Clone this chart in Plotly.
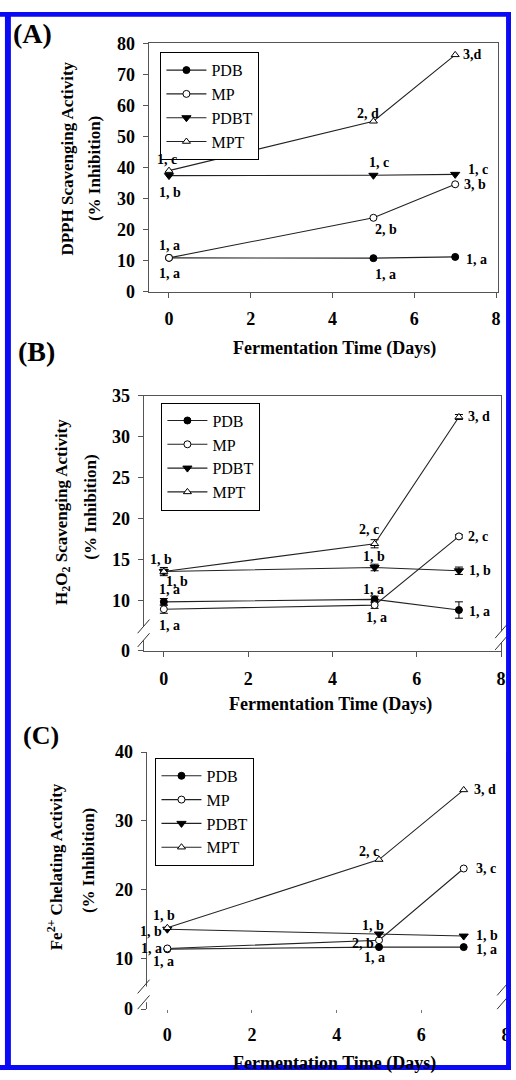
import plotly.graph_objects as go

# ---------------- data ----------------
days = [0, 5, 7]
series_names = ["PDB", "MP", "PDBT", "MPT"]

# (A) DPPH scavenging activity (% inhibition)
dpph_pdb = [10.9, 10.8, 11.2]
dpph_mp = [10.9, 23.8, 34.6]
dpph_pdbt = [37.4, 37.5, 37.8]
dpph_mpt = [39.0, 54.9, 76.3]
dpph_lbl_pdb = ["1, a", "1, a", "1, a"]
dpph_lbl_mp = ["1, a", "2, b", "3, b"]
dpph_lbl_pdbt = ["1, b", "1, c", "1, c"]
dpph_lbl_mpt = ["1, c", "2, d", "3,d"]

# (B) H2O2 scavenging activity (% inhibition)
h2o2_pdb = [9.8, 10.1, 8.8]
h2o2_mp = [8.9, 9.4, 17.8]
h2o2_pdbt = [13.5, 14.0, 13.6]
h2o2_mpt = [13.5, 16.9, 32.4]
h2o2_err_pdb = [0.4, 0.4, 1.0]
h2o2_err_mp = [0.5, 0.4, 0.2]
h2o2_err_pdbt = [0.3, 0.4, 0.45]
h2o2_err_mpt = [0.5, 0.5, 0.3]
h2o2_lbl_pdb = ["1, a", "1, a", "1, a"]
h2o2_lbl_mp = ["1, a", "1, a", "2, c"]
h2o2_lbl_pdbt = ["1, b", "1, b", "1, b"]
h2o2_lbl_mpt = ["1, b", "2, c", "3, d"]

# (C) Fe2+ chelating activity (% inhibition)
fe_pdb = [11.4, 11.7, 11.7]
fe_mp = [11.5, 12.7, 23.1]
fe_pdbt = [14.3, 13.6, 13.3]
fe_mpt = [14.5, 24.4, 34.5]
fe_lbl_pdb = ["1, a", "1, a", "1, a"]
fe_lbl_mp = ["1, a", "2, b", "3, c"]
fe_lbl_pdbt = ["1, b", "1, b", "1, b"]
fe_lbl_mpt = ["1, b", "2, c", "3, d"]

x_ticks = [0, 2, 4, 6, 8]
dpph_ticks = [0, 10, 20, 30, 40, 50, 60, 70, 80]
h2o2_ticks = [10, 15, 20, 25, 30, 35]
fe_ticks = [10, 20, 30, 40]
x_title = "Fermentation Time (Days)"

# ---------------- styling ----------------
W, H = 516, 1080
FONT = "Liberation Serif"
LINE = "#222222"
AXC = "#555555"


def fx(p):
    return p / W


def fy(p):
    return 1 - p / H


marker_styles = {
    "PDB": dict(symbol="circle", size=7, color="black", line=dict(color="black", width=1)),
    "MP": dict(symbol="circle", size=7, color="white", line=dict(color="black", width=1)),
    "PDBT": dict(symbol="triangle-down", size=8, color="black", line=dict(color="black", width=1)),
    "MPT": dict(symbol="triangle-up", size=7, color="white", line=dict(color="black", width=1)),
}

# label offsets (xanchor, xshift px, yshift px) per series per point
offs_A = {
    "PDB": [("center", 1, -16), ("center", 12, -16), ("left", 9, -3)],
    "MP": [("center", 1, 12), ("center", 13, -12), ("left", 7, 0)],
    "PDBT": [("center", 1, -17), ("center", 6, 13), ("left", 11, 5)],
    "MPT": [("center", -2, 11), ("center", -5, 8), ("left", 6, 0)],
}
offs_B = {
    "PDB": [("center", 6, 12), ("center", -1, 10), ("left", 8, -1)],
    "MP": [("center", 6, -16), ("center", 2, -12), ("left", 7, 0)],
    "PDBT": [("center", 13, -10), ("center", -1, 11), ("left", 8, 0)],
    "MPT": [("center", -3, 12), ("center", -6, 14), ("left", 7, 0)],
}
offs_C = {
    "PDB": [("center", -4, -12), ("center", -5, -10), ("left", 10, -2)],
    "MP": [("right", -3, 0), ("right", -3, -3), ("left", 10, 0)],
    "PDBT": [("right", -3, -2), ("center", -6, 9), ("left", 10, 1)],
    "MPT": [("center", -3, 12), ("center", -10, 8), ("left", 8, 0)],
}

panels = [
    dict(sfx="", legend="legend",
         vals={"PDB": dpph_pdb, "MP": dpph_mp, "PDBT": dpph_pdbt, "MPT": dpph_mpt},
         lbls={"PDB": dpph_lbl_pdb, "MP": dpph_lbl_mp, "PDBT": dpph_lbl_pdbt, "MPT": dpph_lbl_mpt},
         errs=None, offs=offs_A,
         xdom=(150, 503), ydom=(34, 287), xr=[-0.5, 8.05], yr=[0, 80],
         ytv=dpph_ticks, ytt=[str(v) for v in dpph_ticks],
         leg=(162, 43), letter="(A)", letter_pos=(11, 24, 28),
         yt1="DPPH Scavenging Activity", yt1pos=(68, 151), yt2pos=(95, 162),
         xtpos=(338, 345)),
    dict(sfx="2", legend="legend2",
         vals={"PDB": h2o2_pdb, "MP": h2o2_mp, "PDBT": h2o2_pdbt, "MPT": h2o2_mpt},
         lbls={"PDB": h2o2_lbl_pdb, "MP": h2o2_lbl_mp, "PDBT": h2o2_lbl_pdbt, "MPT": h2o2_lbl_mpt},
         errs={"PDB": h2o2_err_pdb, "MP": h2o2_err_mp, "PDBT": h2o2_err_pdbt, "MPT": h2o2_err_mpt},
         offs=offs_B,
         xdom=(145, 506), ydom=(393, 653), xr=[-0.48, 8.0], yr=[3.8, 35],
         ytv=[3.8] + h2o2_ticks, ytt=["0"] + [str(v) for v in h2o2_ticks],
         leg=(163, 400), letter="(B)", letter_pos=(16, 348, 28),
         yt1="H<sub>2</sub>O<sub>2</sub> Scavenging Activity", yt1pos=(63, 511), yt2pos=(92, 507),
         xtpos=(334, 708)),
    dict(sfx="3", legend="legend3",
         vals={"PDB": fe_pdb, "MP": fe_mp, "PDBT": fe_pdbt, "MPT": fe_mpt},
         lbls={"PDB": fe_lbl_pdb, "MP": fe_lbl_mp, "PDBT": fe_lbl_pdbt, "MPT": fe_lbl_mpt},
         errs=None, offs=offs_C,
         xdom=(148, 511), ydom=(756, 1018), xr=[-0.49, 8.0], yr=[2.7, 40],
         ytv=[2.7] + fe_ticks, ytt=["0"] + [str(v) for v in fe_ticks],
         leg=(157, 762), letter="(C)", letter_pos=(21, 739, 26),
         yt1="Fe<sup>2+</sup> Chelating Activity", yt1pos=(55, 873), yt2pos=(90, 867),
         xtpos=(338, 1073)),
]

fig = go.Figure()
annotations = []
shapes = []
layout = dict(
    width=W, height=H, autosize=False,
    margin=dict(l=0, r=0, t=0, b=0),
    paper_bgcolor="white", plot_bgcolor="white",
    font=dict(family=FONT, color="black"),
)

for i, p in enumerate(panels):
    s = p["sfx"]
    xa, ya = "x" + s, "y" + s
    for name in series_names:
        err = None
        if p["errs"] is not None:
            err = dict(type="data", array=p["errs"][name], color="black", thickness=1, width=4, visible=True)
        fig.add_trace(go.Scatter(
            x=days, y=p["vals"][name], name=name, mode="lines+markers",
            xaxis=xa, yaxis=ya, legend=p["legend"],
            line=dict(color=LINE, width=1.1),
            marker=marker_styles[name], error_y=err,
        ))
        for j, d in enumerate(days):
            anc, dx, dy = p["offs"][name][j]
            annotations.append(dict(
                x=d, y=p["vals"][name][j], xref=xa, yref=ya,
                text=p["lbls"][name][j], showarrow=False,
                xanchor=anc, yanchor="middle", xshift=dx, yshift=dy,
                font=dict(family=FONT, size=14, weight="bold", color="black"),
            ))
    xname = "xaxis" + s
    yname = "yaxis" + s
    is_c = s == "3"
    layout[xname] = dict(
        domain=[fx(p["xdom"][0]), fx(p["xdom"][1])], range=p["xr"], anchor=ya,
        tickvals=x_ticks, ticks="outside", ticklen=3 if is_c else 5,
        tickcolor="#777777" if is_c else AXC, tickwidth=1,
        showline=not is_c, linecolor=AXC, linewidth=1, mirror=True,
        showgrid=False, zeroline=False, ticklabelstandoff=6,
        tickfont=dict(family=FONT, size=18, weight="bold", color="black"),
    )
    layout[yname] = dict(
        domain=[fy(p["ydom"][1]), fy(p["ydom"][0])], range=p["yr"], anchor=xa,
        tickvals=p["ytv"], ticktext=p["ytt"], ticks="outside", ticklen=5,
        tickcolor=AXC, tickwidth=1,
        showline=True, linecolor=AXC, linewidth=1, mirror=True,
        showgrid=False, zeroline=False, ticklabelstandoff=4,
        tickfont=dict(family=FONT, size=18, weight="bold", color="black"),
    )
    layout[p["legend"]] = dict(
        x=fx(p["leg"][0]), y=fy(p["leg"][1]), xanchor="left", yanchor="top",
        bordercolor="black", borderwidth=1, bgcolor="white",
        font=dict(family=FONT, size=16, color="black"),
        itemwidth=40, tracegroupgap=0,
    )
    # panel letter
    lx, ly, ls = p["letter_pos"]
    annotations.append(dict(x=fx(lx), y=fy(ly), xref="paper", yref="paper", text=p["letter"],
                            showarrow=False, xanchor="left", yanchor="middle",
                            font=dict(family=FONT, size=ls, weight="bold", color="black")))
    # y titles
    for txt, pos in ((p["yt1"], p["yt1pos"]), ("(% Inhibition)", p["yt2pos"])):
        annotations.append(dict(x=fx(pos[0]), y=fy(pos[1]), xref="paper", yref="paper", text=txt,
                                showarrow=False, textangle=-90, xanchor="center", yanchor="middle",
                                font=dict(family=FONT, size=17, weight="bold", color="black")))
    # x title
    annotations.append(dict(x=fx(p["xtpos"][0]), y=fy(p["xtpos"][1]), xref="paper", yref="paper",
                            text=x_title, showarrow=False, xanchor="center", yanchor="middle",
                            font=dict(family=FONT, size=18, weight="bold", color="black")))


def axis_break(ax, y_top, y_bot, sx=-2):
    """white gap on an axis line (pixel coords) with two slash marks"""
    shapes.append(dict(type="rect", xref="paper", yref="paper",
                       x0=fx(ax - 3), x1=fx(ax + 3), y0=fy(y_bot), y1=fy(y_top),
                       fillcolor="white", line=dict(width=0), layer="above"))
    for yc in (y_top, y_bot):
        shapes.append(dict(type="line", xref="paper", yref="paper",
                           x0=fx(ax + sx - 6), y0=fy(yc + 7), x1=fx(ax + sx + 6), y1=fy(yc - 7),
                           line=dict(color="#333333", width=1), layer="above"))


# axis breaks (B and C)
axis_break(145, 628, 642, sx=0)
axis_break(506, 633, 645, sx=0)
axis_break(148, 995, 1011, sx=-3)
axis_break(510, 997, 1011, sx=-2)

# blue frame
for (x0, y0, x1, y1) in ((0, 2, 516, 7), (5, 2, 11, 1080), (511, 2, 516, 1080), (0, 1075, 516, 1080)):
    shapes.append(dict(type="rect", xref="paper", yref="paper",
                       x0=fx(x0), x1=fx(x1), y0=fy(y1), y1=fy(y0),
                       fillcolor="#0a0af5", line=dict(width=0), layer="above"))

layout["annotations"] = annotations
layout["shapes"] = shapes
fig.update_layout(**layout)
fig.write_html("out.html")
